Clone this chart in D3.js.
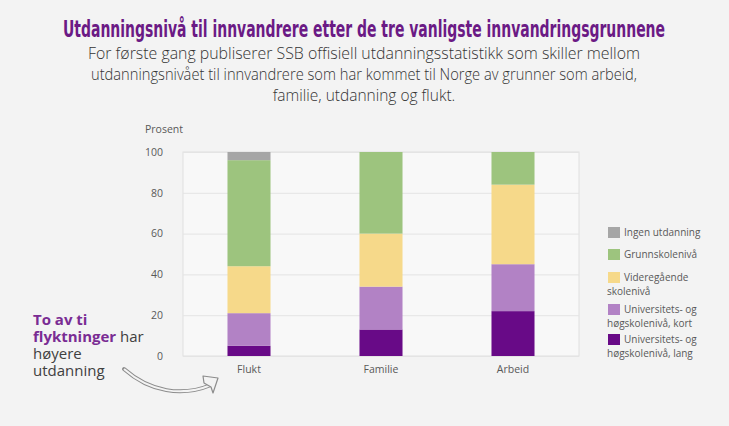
<!DOCTYPE html>
<html><head><meta charset="utf-8">
<script src="https://cdn.jsdelivr.net/npm/d3@7"></script>
<style>
html,body{margin:0;padding:0;background:#f3f3f3;}
svg{display:block;}
</style></head>
<body>
<svg id="chart" width="729" height="426"></svg>
<script>
const categories = ["Flukt", "Familie", "Arbeid"];
const seriesNames = ["Universitets- og høgskolenivå, lang", "Universitets- og høgskolenivå, kort", "Videregående skolenivå", "Grunnskolenivå", "Ingen utdanning"];
const langValues = [5, 13, 22];
const kortValues = [16, 21, 23];
const vgsValues = [23, 26, 39];
const grunnValues = [52, 40, 16];
const ingenValues = [4, 0, 0];
const yTicks = [0, 20, 40, 60, 80, 100];
const colors = ["#680a87", "#b282c5", "#f6d98a", "#9dc47e", "#a6a6a6"];

const svg = d3.select("#chart");
svg.append("rect").attr("width",729).attr("height",426).attr("fill","#f3f3f3");

// Title
svg.append("text").attr("x",364).attr("y",37).attr("text-anchor","middle")
  .attr("font-family","'Liberation Sans Narrow','DejaVu Sans Condensed',sans-serif")
  .attr("font-size",23.5).attr("font-weight",700).attr("fill","#6b1a85")
  .attr("textLength",602).attr("lengthAdjust","spacingAndGlyphs")
  .text("Utdanningsnivå til innvandrere etter de tre vanligste innvandringsgrunnene");

const sub = ["For første gang publiserer SSB offisiell utdanningsstatistikk som skiller mellom",
  "utdanningsnivået til innvandrere som har kommet til Norge av grunner som arbeid,",
  "familie, utdanning og flukt."];
const subW = [552, 546, 0];
sub.forEach((s,i)=>{
  const t = svg.append("text").attr("x",364).attr("y",59+i*21).attr("text-anchor","middle")
    .attr("font-family","'Open Sans',sans-serif").attr("font-weight",300)
    .attr("font-size",15.5).attr("fill","#333").text(s);
  if (subW[i]) t.attr("textLength",subW[i]).attr("lengthAdjust","spacingAndGlyphs");
});

// Plot
const m = {left:183, right:579, top:152, bottom:356};
const x = d3.scaleBand().domain(categories).range([m.left,m.right]).paddingInner(0.674).paddingOuter(0.337);
const y = d3.scaleLinear().domain([0,100]).range([m.bottom,m.top]);

svg.append("rect").attr("x",m.left).attr("y",m.top).attr("width",m.right-m.left).attr("height",m.bottom-m.top)
  .attr("fill","#f8f8f8").attr("stroke","#e0e0e0").attr("stroke-width",1);

const yAxis = d3.axisLeft(y).tickValues(yTicks).tickSize(-(m.right-m.left)).tickPadding(20);
const ga = svg.append("g").attr("transform",`translate(${m.left},0)`).call(yAxis);
ga.select(".domain").remove();
ga.selectAll(".tick line").attr("stroke","#e4e4e4");
ga.selectAll(".tick text").attr("font-family","'Open Sans',sans-serif").attr("font-size",10.5).attr("fill","#595959");

svg.append("text").attr("x",145).attr("y",133).attr("font-family","'Open Sans',sans-serif")
  .attr("font-size",10.5).attr("fill","#595959").text("Prosent");

const xAxis = d3.axisBottom(x).tickSize(0).tickPadding(10);
const gx = svg.append("g").attr("transform",`translate(0,${m.bottom})`).call(xAxis);
gx.select(".domain").remove();
gx.selectAll(".tick text").attr("font-family","'Open Sans',sans-serif").attr("font-size",10.5).attr("fill","#595959");

const table = categories.map((c,i)=>({cat:c, s0:langValues[i], s1:kortValues[i], s2:vgsValues[i], s3:grunnValues[i], s4:ingenValues[i]}));
const stack = d3.stack().keys(["s0","s1","s2","s3","s4"])(table);
svg.append("g").selectAll("g").data(stack).join("g").attr("fill",(d,i)=>colors[i])
  .selectAll("rect").data(d=>d).join("rect")
  .attr("x",d=>x(d.data.cat)).attr("width",x.bandwidth())
  .attr("y",d=>y(d[1])).attr("height",d=>y(d[0])-y(d[1]));

// Legend
const legend = [
  {i:4, top:227, lines:["Ingen utdanning"]},
  {i:3, top:249, lines:["Grunnskolenivå"]},
  {i:2, top:272, lines:["Videregående","skolenivå"]},
  {i:1, top:304, lines:["Universitets- og","høgskolenivå, kort"]},
  {i:0, top:334, lines:["Universitets- og","høgskolenivå, lang"]}
];
const lg = svg.append("g");
legend.forEach(l=>{
  lg.append("rect").attr("x",608).attr("y",l.top).attr("width",12).attr("height",11).attr("fill",colors[l.i]);
  l.lines.forEach((t,j)=>{
    lg.append("text").attr("x", j===0?624:607).attr("y", l.top+9+j*13.5)
      .attr("font-family","'Open Sans',sans-serif").attr("font-size",10).attr("fill","#595959").text(t);
  });
});

// Annotation
const fontA = "'Open Sans',sans-serif";
svg.append("text").attr("x",33).attr("y",325).attr("font-family",fontA).attr("font-size",15)
  .attr("font-weight",700).attr("fill","#7a2c93").text("To av ti");
const l2 = svg.append("text").attr("x",33).attr("y",342).attr("font-family",fontA).attr("font-size",15).attr("fill","#404040");
l2.append("tspan").attr("font-weight",700).attr("fill","#7a2c93").text("flyktninger");
l2.append("tspan").text(" har");
svg.append("text").attr("x",33).attr("y",359).attr("font-family",fontA).attr("font-size",15).attr("fill","#404040").text("høyere");
svg.append("text").attr("x",33).attr("y",376).attr("font-family",fontA).attr("font-size",15).attr("fill","#404040").text("utdanning");

// Arrow (hollow)
const arrowPath = "M124,369 C150,392 182,397 211,385";
svg.append("path").attr("d",arrowPath).attr("fill","none").attr("stroke","#8c8c8c").attr("stroke-width",4).attr("stroke-linecap","round");
svg.append("path").attr("d",arrowPath).attr("fill","none").attr("stroke","#f3f3f3").attr("stroke-width",2);
svg.append("path").attr("d","M203,376 L218,378 L213,393 L211,387 L204,383 Z")
  .attr("fill","#f3f3f3").attr("stroke","#8c8c8c").attr("stroke-width",1.2).attr("stroke-linejoin","round");
</script>
</body></html>
